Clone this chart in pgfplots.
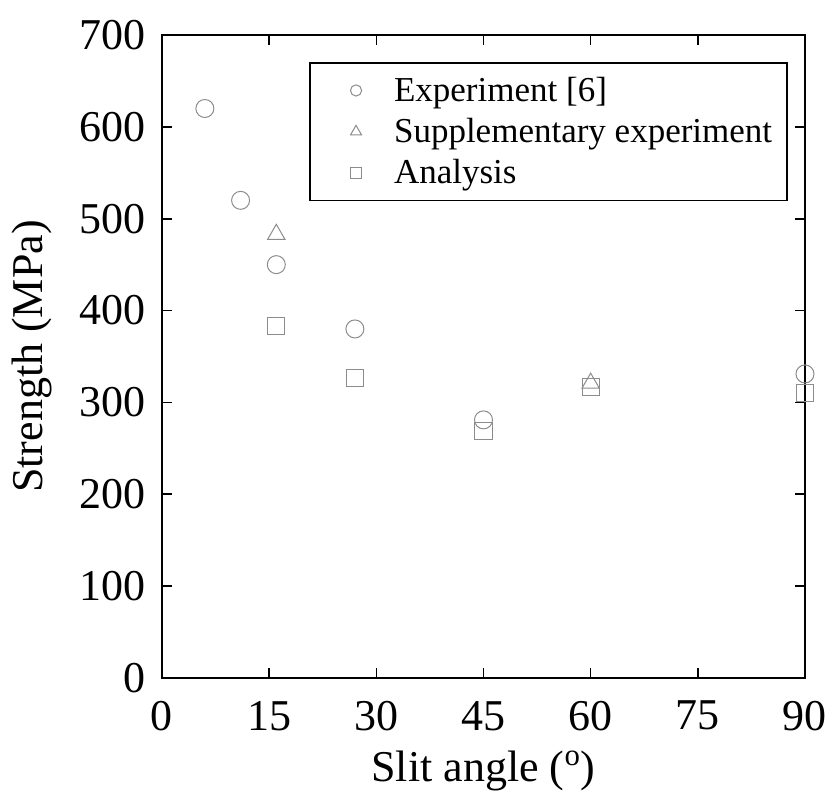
\documentclass[border=0pt]{standalone}
\usepackage{fontspec}
\setmainfont{Liberation Serif}
\usepackage{pgfplots}
\pgfplotsset{compat=1.18}
\pgfplotsset{
  mylegend/.style={legend image code/.code={\path[draw=none,fill=none] (0pt,-3pt) rectangle (34.5pt,3pt); \draw[##1, mark size=#1] plot coordinates {(17.5pt,0pt)};}}
}
\begin{document}
\begin{tikzpicture}
\useasboundingbox (-81pt,-61.5pt) rectangle (335.5pt,339pt);
\begin{axis}[
  at={(0,0)}, anchor=origin,
  scale only axis, width=321.5pt, height=321.5pt,
  xmin=0, xmax=90, ymin=0, ymax=700,
  xtick={0,15,...,90}, ytick={0,100,...,700},
  tick align=inside, major tick length=5pt,
  tick style={black, line width=0.8pt},
  axis line style={line width=0.9pt},
  /pgf/number format/assume math mode=true,
  tick label style={font=\fontsize{22}{26}\selectfont},
  xlabel={Slit angle (\textsuperscript{o})},
  ylabel={Strength (MPa)},
  xlabel style={font=\fontsize{22}{26}\selectfont, yshift=-3pt},
  ylabel style={font=\fontsize{22}{26}\selectfont, yshift=7pt},
  xticklabel style={yshift=-8pt},
  yticklabel style={xshift=-4.5pt},
  legend style={at={(0.229,0.958)}, anchor=north west, draw=black, line width=0.8pt,
    font=\fontsize{17.5}{21}\selectfont, row sep=3pt, inner xsep=5.5pt, inner ysep=5pt},
  legend cell align=left,
]
\addplot[only marks, mark=o, mark size=4.5pt, black!45, line width=0.5pt, mylegend=2.8pt]
  coordinates {(6,620) (11,520) (16,450) (27,380) (45,281) (90,331)};
\addlegendentry{Experiment [6]}
\addplot[only marks, mark=triangle, mark size=5pt, black!45, line width=0.5pt, mylegend=3.2pt]
  coordinates {(16,483) (60,321)};
\addlegendentry{Supplementary experiment}
\addplot[only marks, mark=square, mark size=4.3pt, black!45, line width=0.5pt, mylegend=2.6pt]
  coordinates {(16,383) (27,327) (45,269) (60,317) (90,310)};
\addlegendentry{Analysis}
\end{axis}
\end{tikzpicture}
\end{document}
